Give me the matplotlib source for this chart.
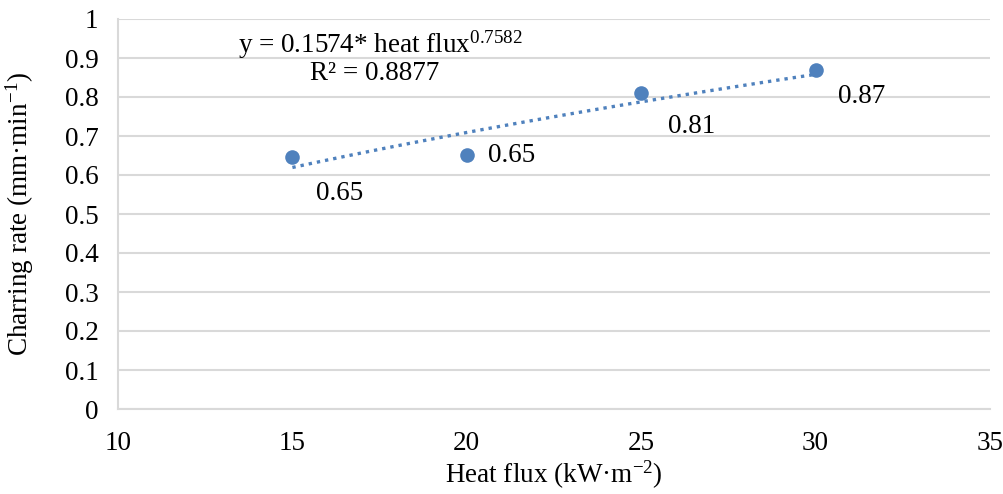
import numpy as np
import matplotlib
matplotlib.use("Agg")
import matplotlib.pyplot as plt

plt.rcParams['font.family'] = ['Liberation Serif', 'DejaVu Serif']
plt.rcParams['mathtext.fontset'] = 'custom'
plt.rcParams['mathtext.rm'] = 'Liberation Serif'
plt.rcParams['mathtext.it'] = 'Liberation Serif:italic'

heat_flux = [15, 20, 25, 30]
charring_rate = [0.646, 0.651, 0.811, 0.870]
point_labels = ["0.65", "0.65", "0.81", "0.87"]
x_ticks = [10, 15, 20, 25, 30, 35]
y_ticks = [0, 0.1, 0.2, 0.3, 0.4, 0.5, 0.6, 0.7, 0.8, 0.9, 1]
y_tick_labels = ["0", "0.1", "0.2", "0.3", "0.4", "0.5", "0.6", "0.7", "0.8", "0.9", "1"]
equation_text = "y = 0.1574* heat flux$^{0.7582}$"
r2_text = "R² = 0.8877"

W, H = 1004, 494
color = '#4F81BD'
fs = 19.5
fig = plt.figure(figsize=(W/100, H/100), dpi=100)
ax = fig.add_axes([118/W, 1-409/H, (990-118)/W, (409-19)/H])

# power-law trendline fitted to the data
lx = np.log(heat_flux); ly = np.log(charring_rate)
b, a = np.polyfit(lx, ly, 1)
xt = np.linspace(min(heat_flux), max(heat_flux), 100)
ax.plot(xt, np.exp(a) * xt**b, linestyle=(0, (1, 1.5)), color=color, lw=2.4, zorder=2)

ax.plot(heat_flux, charring_rate, 'o', color=color, markersize=10.5, zorder=3, markeredgewidth=0)

offsets = [(34, -26), (32, 0), (36, -24), (33, -19)]
for x, y, lab, off in zip(heat_flux, charring_rate, point_labels, offsets):
    ax.annotate(lab, (x, y), xytext=off, textcoords='offset points',
                ha='center', va='center', fontsize=fs)

fig.text(380/W, 1-45/H, equation_text, fontsize=fs, ha='center', va='center')
fig.text(375/W, 1-73/H, r2_text, fontsize=fs, ha='center', va='center')

ax.set_xlim(10, 35)
ax.set_ylim(0, 1)
ax.set_xticks(x_ticks)
ax.set_xticklabels([str(v) for v in x_ticks])
ax.set_yticks(y_ticks)
ax.set_yticklabels(y_tick_labels)
ax.tick_params(axis='both', length=0, labelsize=fs)
ax.tick_params(axis='x', pad=16)
ax.tick_params(axis='y', pad=14)
ax.grid(axis='y', color='#D9D9D9', lw=1.5)
ax.set_axisbelow(True)
for s in ['top', 'right']:
    ax.spines[s].set_visible(False)
for s in ['left', 'bottom']:
    ax.spines[s].set_color('#D9D9D9')
    ax.spines[s].set_linewidth(1.5)

ax.set_xlabel("Heat flux (kW·m$^{-2}$)", fontsize=fs)
ax.set_ylabel("Charring rate (mm·min$^{-1}$)", fontsize=fs)
ax.xaxis.set_label_coords(0.5, -(475-409)/390, transform=None) if False else None
ax.xaxis.label.set_va('center'); ax.yaxis.label.set_va('center')
ax.xaxis.set_label_coords(0.5, -(475-409)/390)
ax.yaxis.set_label_coords(-(118-20)/872, 0.5)

fig.savefig("out.png", dpi=100)
